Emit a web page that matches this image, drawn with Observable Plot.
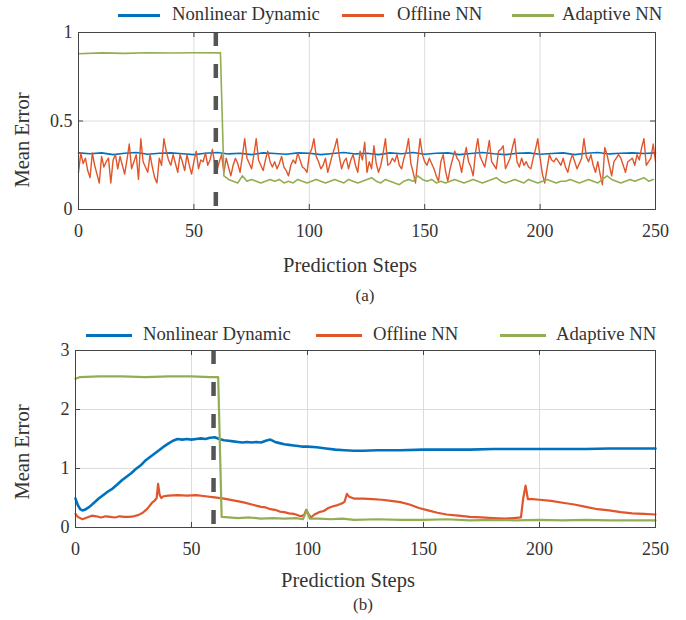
<!DOCTYPE html>
<html><head><meta charset="utf-8">
<script src="https://cdn.jsdelivr.net/npm/d3@7"></script>
<script src="https://cdn.jsdelivr.net/npm/@observablehq/plot@0.6"></script>
<style>
body{margin:0;background:#fff;}
#wrap{position:relative;width:686px;height:620px;font-family:"Liberation Serif","Times New Roman",serif;color:#333;overflow:hidden;}
.abs{position:absolute;white-space:nowrap;line-height:1;}
.sw{position:absolute;height:3px;}
</style>
</head><body><div id="wrap"></div>
<script>
// ---------- data ----------
const seriesNames = ["Nonlinear Dynamic", "Offline NN", "Adaptive NN"];
const xTicks = [0, 50, 100, 150, 200, 250];
const yTicksA = [0, 0.5, 1];
const yTicksB = [0, 1, 2, 3];
const switchStep = 59.5;

// Panel (a)
const blueA_steps = [0,5,10,15,20,25,30,35,40,45,50,55,60,65,70,75,80,85,90,95,100,105,110,115,120,125,130,135,140,145,150,155,160,165,170,175,180,185,190,195,200,205,210,215,220,225,230,235,240,245,250];
const blueA = [0.32,0.315,0.32,0.31,0.318,0.322,0.312,0.318,0.32,0.315,0.31,0.318,0.322,0.314,0.318,0.31,0.32,0.316,0.312,0.32,0.318,0.31,0.316,0.322,0.314,0.318,0.31,0.32,0.315,0.322,0.312,0.318,0.32,0.31,0.316,0.322,0.315,0.31,0.318,0.32,0.312,0.316,0.32,0.31,0.318,0.322,0.314,0.318,0.32,0.316,0.32];
// Offline NN, one value per step 0..250
const redA = [0.21,0.32,0.26,0.29,0.22,0.18,0.32,0.25,0.20,0.15,
0.30,0.24,0.27,0.29,0.15,0.28,0.31,0.23,0.30,0.25,
0.20,0.28,0.37,0.23,0.27,0.31,0.17,0.40,0.27,0.24,
0.21,0.31,0.24,0.18,0.15,0.29,0.25,0.40,0.33,0.28,
0.25,0.31,0.26,0.21,0.31,0.27,0.22,0.31,0.25,0.20,
0.27,0.33,0.23,0.28,0.27,0.32,0.25,0.28,0.34,0.26,
0.22,0.27,0.31,0.21,0.29,0.24,0.19,0.25,0.29,0.26,
0.21,0.30,0.40,0.29,0.26,0.23,0.31,0.40,0.28,0.25,
0.22,0.28,0.33,0.27,0.24,0.27,0.23,0.26,0.30,0.24,
0.22,0.19,0.25,0.28,0.26,0.32,0.28,0.24,0.23,0.21,
0.31,0.34,0.40,0.30,0.27,0.23,0.25,0.29,0.21,0.26,
0.31,0.35,0.40,0.30,0.23,0.27,0.29,0.23,0.28,0.31,
0.25,0.21,0.33,0.28,0.38,0.21,0.27,0.23,0.36,0.26,
0.21,0.25,0.32,0.40,0.25,0.26,0.29,0.27,0.31,0.25,
0.23,0.29,0.33,0.40,0.26,0.21,0.15,0.28,0.40,0.31,
0.27,0.25,0.29,0.26,0.23,0.19,0.16,0.27,0.31,0.22,
0.16,0.23,0.28,0.33,0.29,0.27,0.21,0.29,0.35,0.27,
0.24,0.19,0.32,0.40,0.30,0.27,0.24,0.31,0.39,0.27,
0.25,0.23,0.33,0.34,0.36,0.23,0.26,0.29,0.35,0.40,
0.27,0.24,0.29,0.25,0.27,0.24,0.23,0.29,0.34,0.40,
0.29,0.20,0.15,0.23,0.31,0.28,0.27,0.29,0.27,0.25,
0.29,0.24,0.21,0.27,0.31,0.27,0.23,0.26,0.29,0.40,
0.30,0.27,0.31,0.25,0.21,0.27,0.20,0.14,0.35,0.31,
0.25,0.19,0.27,0.29,0.31,0.29,0.25,0.21,0.27,0.28,
0.29,0.25,0.31,0.28,0.35,0.40,0.25,0.27,0.29,0.37,
0.27];
const greenA_steps = [0,10,20,30,40,50,61.5,63,65,67,69,71,73,75,77,79,81,83,85,87,89,91,93,95,97,99,101,103,105,107,109,111,113,115,117,119,121,123,125,127,129,131,133,135,137,139,141,143,145,147,149,151,153,155,157,159,161,163,165,167,169,171,173,175,177,179,181,183,185,187,189,191,193,195,197,199,201,203,205,207,209,211,213,215,217,219,221,223,225,227,229,231,233,235,237,239,241,243,245,247,249];
const greenA = [0.88,0.885,0.882,0.886,0.884,0.886,0.885,0.19,0.17,0.16,0.15,0.19,0.16,0.17,0.16,0.15,0.16,0.17,0.16,0.17,0.15,0.16,0.15,0.17,0.16,0.15,0.16,0.17,0.16,0.15,0.16,0.17,0.16,0.15,0.17,0.16,0.15,0.16,0.17,0.18,0.16,0.15,0.17,0.16,0.15,0.14,0.16,0.17,0.16,0.19,0.17,0.16,0.17,0.15,0.16,0.15,0.16,0.17,0.16,0.15,0.16,0.17,0.16,0.15,0.16,0.17,0.18,0.16,0.15,0.16,0.17,0.16,0.15,0.17,0.16,0.15,0.16,0.17,0.16,0.15,0.16,0.16,0.17,0.16,0.15,0.16,0.17,0.16,0.15,0.17,0.19,0.17,0.16,0.15,0.16,0.17,0.16,0.17,0.18,0.16,0.17];

// Panel (b)
const blueB_steps = [0,1,2,3,4,6,8,10,12,14,16,18,20,22,24,26,28,30,32,34,36,38,40,42,44,46,48,50,52,54,56,58,60,62,64,66,68,70,72,74,76,78,80,82,84,86,88,90,92,94,96,98,100,104,108,112,116,120,124,130,140,150,160,170,180,190,200,210,220,230,240,250];
const blueB = [0.49,0.38,0.31,0.29,0.30,0.35,0.42,0.49,0.55,0.61,0.66,0.73,0.80,0.86,0.92,0.99,1.05,1.13,1.19,1.25,1.31,1.37,1.42,1.47,1.50,1.49,1.50,1.49,1.50,1.51,1.50,1.52,1.53,1.50,1.48,1.47,1.46,1.45,1.44,1.45,1.44,1.45,1.44,1.47,1.49,1.45,1.43,1.41,1.40,1.39,1.38,1.37,1.37,1.36,1.34,1.32,1.31,1.30,1.30,1.31,1.31,1.32,1.32,1.32,1.33,1.33,1.33,1.33,1.33,1.34,1.34,1.34];
const redB_steps = [0,1,3,5,7,9,11,13,15,17,19,21,23,25,27,29,31,33,34,35,35.6,36.3,37,38,40,44,48,52,56,60,64,68,72,76,80,82,84,86,88,90,92,94,95,97,98.5,99.5,100.5,101.5,103,105,107,109,111,113,115,116,117,118,120,124,128,132,136,140,144,148,152,156,160,165,170,175,180,185,189,192,193,194,195,197,200,205,210,215,220,225,230,235,240,245,250];
const redB = [0.23,0.18,0.14,0.17,0.20,0.19,0.17,0.19,0.18,0.17,0.19,0.18,0.18,0.19,0.21,0.25,0.32,0.42,0.45,0.50,0.74,0.55,0.50,0.53,0.54,0.55,0.54,0.55,0.53,0.51,0.49,0.46,0.43,0.39,0.35,0.34,0.31,0.30,0.27,0.26,0.24,0.23,0.22,0.19,0.21,0.30,0.22,0.17,0.22,0.26,0.28,0.33,0.36,0.38,0.41,0.44,0.57,0.52,0.49,0.49,0.48,0.47,0.45,0.43,0.39,0.33,0.29,0.25,0.22,0.20,0.18,0.17,0.16,0.15,0.16,0.17,0.50,0.71,0.48,0.48,0.47,0.45,0.42,0.39,0.35,0.31,0.29,0.26,0.24,0.23,0.22];
const greenB_steps = [0,2,10,20,30,40,50,58,61.5,63,66,70,75,80,85,90,95,98,99.7,101,105,110,115,120,130,140,150,160,170,180,190,200,210,220,230,240,250];
const greenB = [2.52,2.55,2.56,2.56,2.55,2.56,2.56,2.55,2.55,0.18,0.17,0.16,0.17,0.15,0.16,0.15,0.16,0.14,0.29,0.15,0.15,0.14,0.15,0.13,0.14,0.13,0.13,0.14,0.12,0.13,0.12,0.13,0.12,0.13,0.12,0.12,0.12];

// ---------- styling ----------
const colors = ["#0072BD", "#E0552A", "#93AE52"];
const font = "'Liberation Serif','Times New Roman',serif";
const wrap = document.getElementById("wrap");

function pts(xs, ys){ return xs.map((x,i)=>({x, y: ys[i]})); }

function panel({top, yDomain, yTicks, series, widths, marginLeft}){
  const H = 225, mt = 10, mb = 38, ml = marginLeft, mr = 31;
  const pxX = (250) / (686 - ml - mr);          // data units per px
  const pxY = (yDomain[1]-yDomain[0]) / (H - mt - mb);
  const tl = 5;
  const marks = [
    Plot.gridX(xTicks, {stroke: "#dcdcdc", strokeOpacity: 1}),
    Plot.gridY(yTicks, {stroke: "#dcdcdc", strokeOpacity: 1}),
    ...series.map((s,i)=>Plot.line(pts(s[0], s[1]), {x:"x", y:"y", stroke: colors[i], strokeWidth: widths[i]})),
    Plot.ruleX([switchStep], {stroke: "#555", strokeWidth: 4.5, strokeDasharray: "14,18"}),
    Plot.frame({stroke: "#444"}),
    Plot.ruleX(xTicks.slice(1,-1), {y1: yDomain[0], y2: yDomain[0] + tl*pxY, stroke:"#444"}),
    Plot.ruleX(xTicks.slice(1,-1), {y1: yDomain[1], y2: yDomain[1] - tl*pxY, stroke:"#444"}),
    Plot.ruleY(yTicks.slice(1,-1), {x1: 0, x2: tl*pxX, stroke:"#444"}),
    Plot.ruleY(yTicks.slice(1,-1), {x1: 250, x2: 250 - tl*pxX, stroke:"#444"}),
    Plot.axisX(xTicks, {tickSize: 0, tickPadding: 15, label: null, tickFormat: d => String(d), fill: "#333"}),
    Plot.axisY(yTicks, {tickSize: 0, tickPadding: 6, label: null, tickFormat: d => String(d), fill: "#333"})
  ];
  const svg = Plot.plot({
    width: 686, height: H,
    marginTop: mt, marginBottom: mb, marginLeft: ml, marginRight: mr,
    x: {domain: [0, 250]},
    y: {domain: yDomain},
    style: {fontFamily: font, fontSize: "18px", color: "#333", background: "transparent"},
    marks
  });
  svg.style.position = "absolute";
  svg.style.left = "0px";
  svg.style.top = top + "px";
  wrap.appendChild(svg);
}

function text(str, cx, cy, size, rotate){
  const d = document.createElement("div");
  d.className = "abs";
  d.textContent = str;
  d.style.fontSize = size + "px";
  d.style.left = cx + "px";
  d.style.top = cy + "px";
  d.style.transform = "translate(-50%,-50%)" + (rotate ? " rotate(-90deg)" : "");
  wrap.appendChild(d);
}
function legend(cy, swLeft, swW, txLeft){
  seriesNames.forEach((n,i)=>{
    const s = document.createElement("div");
    s.className = "sw";
    s.style.left = swLeft[i] + "px"; s.style.width = swW + "px";
    s.style.top = (cy - 1.5) + "px"; s.style.background = colors[i];
    wrap.appendChild(s);
    const t = document.createElement("div");
    t.className = "abs"; t.textContent = n;
    t.style.fontSize = "18.7px"; t.style.left = txLeft[i] + "px";
    t.style.top = (cy - 10) + "px";
    wrap.appendChild(t);
  });
}

// Panel (a)
panel({top: 22, yDomain: [0,1], yTicks: yTicksA, marginLeft: 78,
  series: [[blueA_steps, blueA], [redA.map((_,i)=>i), redA], [greenA_steps, greenA]],
  widths: [1.6, 1.4, 1.6]});
legend(15, [118, 342, 512], 42, [172, 397, 562]);
text("Mean Error", 22, 140, 20.5, true);
text("Prediction Steps", 350, 265, 20.5);
text("(a)", 365, 295, 17);

// Panel (b)
panel({top: 340, yDomain: [0,3], yTicks: yTicksB, marginLeft: 75,
  series: [[blueB_steps, blueB], [redB_steps, redB], [greenB_steps, greenB]],
  widths: [2.6, 2.2, 2.2]});
legend(335, [86, 316, 500], 46, [143, 373, 556]);
text("Mean Error", 22, 452, 20.5, true);
text("Prediction Steps", 348, 580, 20.5);
text("(b)", 363, 604, 17);
</script></body></html>
